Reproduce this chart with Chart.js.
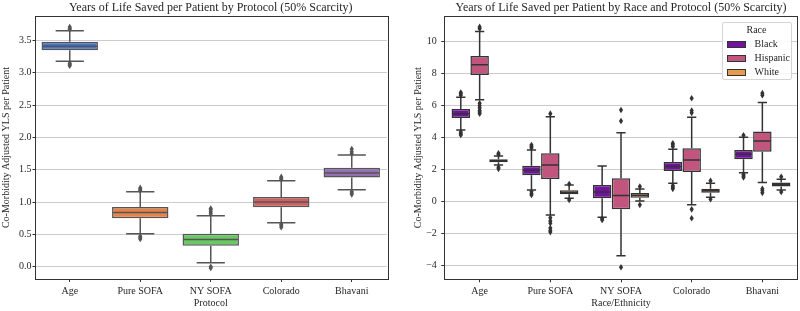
<!DOCTYPE html>
<html>
<head>
<meta charset="utf-8">
<script src="https://cdn.jsdelivr.net/npm/chart.js@4.4.1/dist/chart.umd.min.js"></script>
<style>
  body { margin:0; background:#fff; }
  #wrap { position:relative; width:800px; height:311px; }
  .pane { position:absolute; top:0; width:400px; height:311px; }
  #legend { position:absolute; left:321.5px; top:21.5px; width:70px; height:58px; box-sizing:border-box;
    border:1px solid #d4d4d4; border-radius:2px; background:rgba(255,255,255,0.85);
    font:10px 'Liberation Serif', serif; color:#262626; }
  #legend .ttl { position:absolute; left:0; width:100%; top:1px; text-align:center; line-height:12px; }
  #legend .row { position:absolute; left:4px; height:12px; line-height:12px; }
  #legend .sw { position:absolute; left:0; top:2.5px; width:19px; height:7px; box-sizing:border-box; border:1px solid #333; }
  #legend .lb { position:absolute; left:28px; top:0; white-space:nowrap; }
</style>
</head>
<body>
<div id="wrap">
  <div class="pane" style="left:0"><canvas id="left" width="400" height="311"></canvas></div>
  <div class="pane" style="left:400px"><canvas id="right" width="400" height="311"></canvas><div id="legend"></div></div>
</div>
<script>
const protocols = ['Age', 'Pure SOFA', 'NY SOFA', 'Colorado', 'Bhavani'];

// left panel: all patients
const lowL  = [3.18, 0.51, 0.06, 0.68, 1.19];
const q1L   = [3.35, 0.75, 0.325, 0.92, 1.38];
const medL  = [3.41, 0.84, 0.42, 1.00, 1.45];
const q3L   = [3.48, 0.925, 0.51, 1.08, 1.53];
const highL = [3.65, 1.16, 0.79, 1.33, 1.73];
const outL  = [
  [3.67, 3.69, 3.71, 3.15, 3.13, 3.11],
  [1.18, 1.20, 1.22, 0.47, 0.45, 0.43],
  [0.82, 0.85, 0.88, 0.90, 0.00, -0.02],
  [1.35, 1.37, 1.39, 0.66, 0.64, 0.61],
  [1.75, 1.78, 1.82, 1.16, 1.14, 1.12]
];
const colorsL = ['#4a72c6', '#e4834a', '#6ac865', '#d0605f', '#9470b2'];
const yTicksL = [0, 0.5, 1, 1.5, 2, 2.5, 3, 3.5];

// right panel: by race
const races = ['Black', 'Hispanic', 'White'];
const raceColors = ['#71139f', '#c2557e', '#e69b4e'];
const lowR = [
  [4.48, 0.73, -0.98, 1.15, 1.81],
  [6.36, -0.83, -3.38, -0.19, 1.19],
  [2.29, 0.21, 0.04, 0.27, 0.73]
];
const q1R = [
  [5.23, 1.65, 0.21, 1.92, 2.65],
  [7.92, 1.42, -0.48, 1.86, 3.12],
  [2.46, 0.46, 0.25, 0.56, 0.94]
];
const medR = [
  [5.50, 1.96, 0.61, 2.19, 2.96],
  [8.56, 2.29, 0.38, 2.60, 3.79],
  [2.55, 0.58, 0.40, 0.69, 1.06]
];
const q3R = [
  [5.79, 2.25, 1.04, 2.48, 3.23],
  [9.10, 3.02, 1.46, 3.34, 4.38],
  [2.65, 0.71, 0.54, 0.81, 1.19]
];
const highR = [
  [6.52, 3.23, 2.23, 3.27, 4.02],
  [10.63, 5.31, 4.31, 5.27, 6.19],
  [2.86, 1.04, 0.79, 1.15, 1.40]
];
const outR = [
  [[6.65, 6.75, 6.82, 4.35, 4.25, 4.17], [3.35, 3.45, 3.54, 0.62, 0.50, 0.42], [-1.05, -1.14], [3.45, 3.55, 3.65, 1.00, 0.90, 0.80], [4.15, 1.70, 1.60, 1.52]],
  [[10.80, 10.92, 6.15, 6.00, 5.85, 5.70, 5.60, 5.50], [5.50, -1.00, -1.20, -1.35, -1.65, -1.80, -1.90], [5.73, 5.04, -4.10], [6.46, 5.70, 5.55, -0.48, -1.04], [6.65, 6.78, 0.80, 0.70, 0.55]],
  [[2.95, 3.02, 2.15, 2.05], [1.10, 0.10], [0.94, -0.20], [1.30, 0.15], [1.55, 0.60]]
];
const yTicksR = [-4, -2, 0, 2, 4, 6, 8, 10];

const FONT = "'Liberation Serif', 'Times New Roman', serif";
const INK = '#262626';

// whiskers, caps, medians and fliers on top of the floating bars
const boxPlugin = {
  id: 'boxes',
  afterDatasetsDraw(chart) {
    const ctx = chart.ctx, y = chart.scales.y;
    chart.data.datasets.forEach((ds, di) => {
      const st = ds.stats;
      chart.getDatasetMeta(di).data.forEach((bar, i) => {
        const x = bar.x, half = bar.width / 2, cap = bar.width / 4;
        const yq1 = y.getPixelForValue(ds.data[i][0]), yq3 = y.getPixelForValue(ds.data[i][1]);
        const ylo = y.getPixelForValue(st.lo[i]), yhi = y.getPixelForValue(st.hi[i]);
        const ym = y.getPixelForValue(st.med[i]);
        ctx.save();
        ctx.strokeStyle = ds.borderColor;
        ctx.lineWidth = 1.5;
        ctx.beginPath();
        ctx.moveTo(x, yq3); ctx.lineTo(x, yhi);
        ctx.moveTo(x, yq1); ctx.lineTo(x, ylo);
        ctx.moveTo(x - cap, yhi); ctx.lineTo(x + cap, yhi);
        ctx.moveTo(x - cap, ylo); ctx.lineTo(x + cap, ylo);
        ctx.moveTo(x - half + 0.75, ym); ctx.lineTo(x + half - 0.75, ym);
        ctx.stroke();
        ctx.fillStyle = ds.borderColor;
        st.out[i].forEach(v => {
          const py = y.getPixelForValue(v);
          ctx.beginPath();
          ctx.moveTo(x, py - 3.3); ctx.lineTo(x + 2.1, py); ctx.lineTo(x, py + 3.3); ctx.lineTo(x - 2.1, py);
          ctx.closePath();
          ctx.fill();
        });
        ctx.restore();
      });
    });
  }
};

const framePlugin = {
  id: 'frame',
  afterDraw(chart, args, opts) {
    const { ctx, chartArea: a } = chart;
    ctx.save();
    ctx.strokeStyle = '#333';
    ctx.lineWidth = 1;
    ctx.strokeRect(Math.round(a.left) + 0.5, Math.round(a.top) + 0.5, Math.round(a.right - a.left), Math.round(a.bottom - a.top));
    ctx.font = '12px ' + FONT;
    ctx.fillStyle = INK;
    ctx.textAlign = 'center';
    ctx.textBaseline = 'middle';
    ctx.fillText(opts.text, (a.left + a.right) / 2, 8);
    ctx.restore();
  }
};

function options(cfg) {
  return {
    responsive: false,
    animation: false,
    layout: { padding: { top: 16, right: cfg.padRight, left: 0, bottom: 0 } },
    plugins: { legend: { display: false }, tooltip: { enabled: false }, frame: { text: cfg.title } },
    scales: {
      x: {
        type: 'category',
        offset: true,
        grid: { drawOnChartArea: false, offset: false, tickLength: 3, tickColor: '#333' },
        border: { display: false },
        ticks: { color: INK, font: { family: FONT, size: 10 }, padding: 3 },
        title: { display: true, text: cfg.xTitle, color: INK, font: { family: FONT, size: 10 }, padding: { top: 0, bottom: 2 } },
        afterFit(s) { s.height = cfg.xHeight; }
      },
      y: {
        type: 'linear',
        min: cfg.min, max: cfg.max,
        afterBuildTicks(s) { s.ticks = cfg.ticks.map(v => ({ value: v })); },
        grid: { color: '#cccccc', lineWidth: 1, tickLength: cfg.tickLen, tickColor: '#333' },
        border: { display: false },
        ticks: { color: INK, font: { family: FONT, size: 10 }, padding: cfg.tickPad, callback: cfg.fmt },
        title: { display: true, text: 'Co-Morbidity Adjusted YLS per Patient', color: INK, font: { family: FONT, size: 10 }, padding: { top: cfg.titlePad, bottom: 0 } },
        afterFit(s) { s.width = cfg.yWidth; }
      }
    }
  };
}

new Chart(document.getElementById('left'), {
  type: 'bar',
  data: {
    labels: protocols,
    datasets: [{
      data: q1L.map((v, i) => [v, q3L[i]]),
      backgroundColor: colorsL,
      borderColor: '#555555',
      borderWidth: 1.5,
      borderSkipped: false,
      barPercentage: 0.8,
      categoryPercentage: 1,
      stats: { lo: lowL, med: medL, hi: highL, out: outL }
    }]
  },
  options: options({
    title: 'Years of Life Saved per Patient by Protocol (50% Scarcity)',
    xTitle: 'Protocol', min: -0.19, max: 3.88, ticks: yTicksL,
    fmt: v => v.toFixed(1), padRight: 13, yWidth: 34.5, xHeight: 32,
    tickLen: 2, tickPad: 1, titlePad: 0.5
  }),
  plugins: [boxPlugin, framePlugin]
});

new Chart(document.getElementById('right'), {
  type: 'bar',
  data: {
    labels: protocols,
    datasets: races.map((r, k) => ({
      label: r,
      data: q1R[k].map((v, i) => [v, q3R[k][i]]),
      backgroundColor: raceColors[k],
      borderColor: '#333333',
      borderWidth: 1.5,
      borderSkipped: false,
      barPercentage: 0.98,
      categoryPercentage: 0.8,
      stats: { lo: lowR[k], med: medR[k], hi: highR[k], out: outR[k] }
    }))
  },
  options: options({
    title: 'Years of Life Saved per Patient by Race and Protocol (50% Scarcity)',
    xTitle: 'Race/Ethnicity', min: -4.85, max: 11.6, ticks: yTicksR,
    fmt: v => v < 0 ? '\u2212' + Math.abs(v) : String(v), padRight: 2.3, yWidth: 44.3, xHeight: 31.7,
    tickLen: 3, tickPad: 4.5, titlePad: 12.5
  }),
  plugins: [boxPlugin, framePlugin]
});

// legend box
const legend = document.getElementById('legend');
legend.innerHTML = '<div class="ttl">Race</div>' + races.map((r, k) =>
  `<div class="row" style="top:${15.8 + k * 13.9}px"><span class="sw" style="background:${raceColors[k]}"></span><span class="lb">${r}</span></div>`
).join('');
</script>
</body>
</html>
